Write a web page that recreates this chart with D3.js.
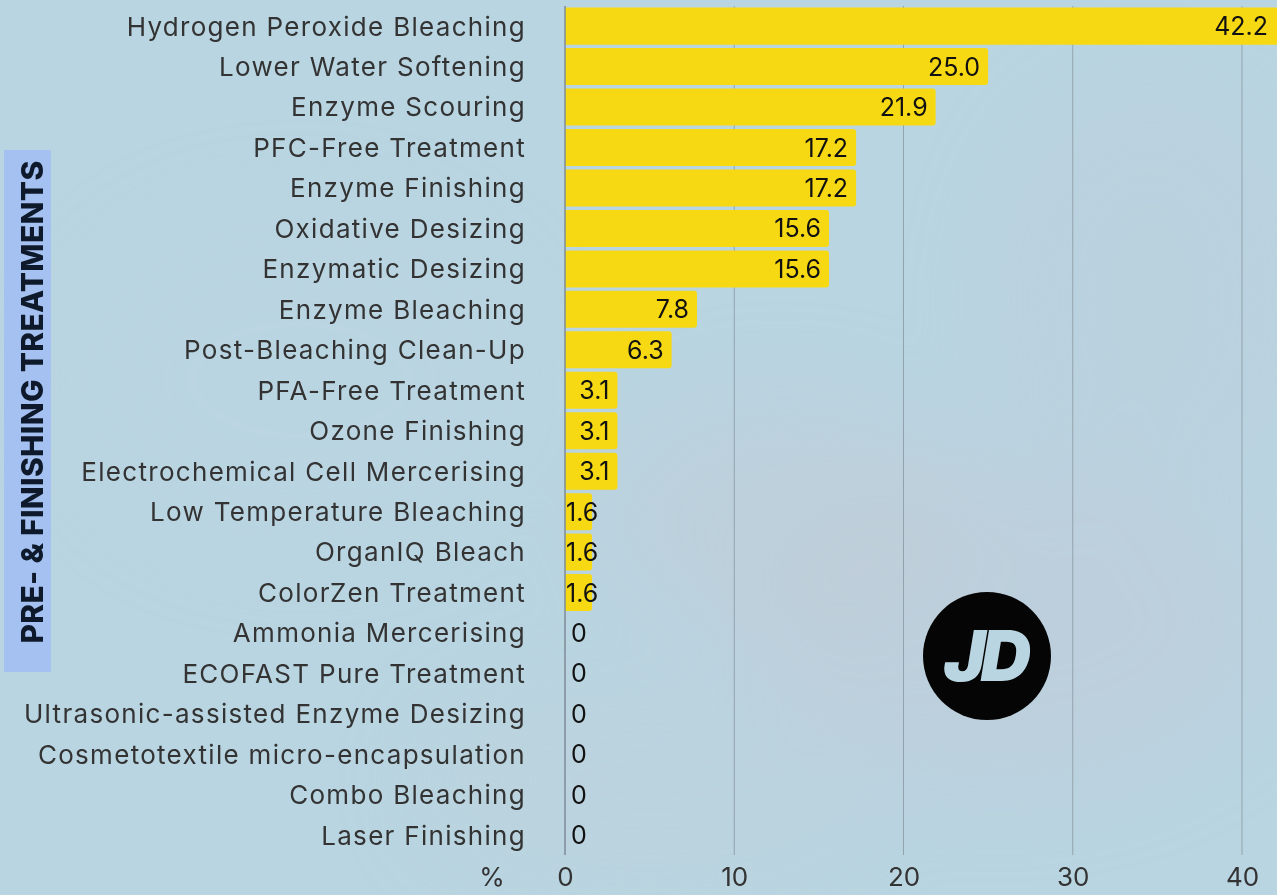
<!DOCTYPE html>
<html>
<head>
<meta charset="utf-8">
<script src="https://cdn.jsdelivr.net/npm/d3@7"></script>
<style>
  html, body { margin: 0; padding: 0; background: #b9d5e1; }
  svg { display: block; }
</style>
</head>
<body>
<svg id="chart" width="1277" height="895"></svg>
<script>
// Share of suppliers using each treatment (%)
const categories = [
  "Hydrogen Peroxide Bleaching",
  "Lower Water Softening",
  "Enzyme Scouring",
  "PFC-Free Treatment",
  "Enzyme Finishing",
  "Oxidative Desizing",
  "Enzymatic Desizing",
  "Enzyme Bleaching",
  "Post-Bleaching Clean-Up",
  "PFA-Free Treatment",
  "Ozone Finishing",
  "Electrochemical Cell Mercerising",
  "Low Temperature Bleaching",
  "OrganIQ Bleach",
  "ColorZen Treatment",
  "Ammonia Mercerising",
  "ECOFAST Pure Treatment",
  "Ultrasonic-assisted Enzyme Desizing",
  "Cosmetotextile micro-encapsulation",
  "Combo Bleaching",
  "Laser Finishing"
];
const values = [42.2, 25.0, 21.9, 17.2, 17.2, 15.6, 15.6, 7.8, 6.3, 3.1, 3.1, 3.1, 1.6, 1.6, 1.6, 0, 0, 0, 0, 0, 0];
const xTicks = [0, 10, 20, 30, 40];
const groupTitle = "PRE- & FINISHING TREATMENTS";

const W = 1277, H = 895;
const FONT = "Inter, 'Noto Sans', sans-serif";
const svg = d3.select("#chart");

// Hazy, slightly mottled backdrop
const defs = svg.append("defs");
const blur = defs.append("filter").attr("id", "haze")
  .attr("x", "-50%").attr("y", "-50%").attr("width", "200%").attr("height", "200%");
blur.append("feGaussianBlur").attr("stdDeviation", 45);
defs.append("clipPath").attr("id", "plotClip")
  .append("rect").attr("x", 0).attr("y", 0).attr("width", W).attr("height", H);

svg.append("rect").attr("width", W).attr("height", H).attr("fill", "#b9d5e1");
const haze = svg.append("g").attr("filter", "url(#haze)");
[
  [1000, 620, 260, 160, "#bfcbd8", 0.6],
  [780, 520, 180, 120, "#c0ccd8", 0.45],
  [300, 380, 220, 160, "#bcd6e3", 0.5],
  [1150, 300, 150, 200, "#bccfdc", 0.45],
  [650, 780, 220, 90, "#bfd0dc", 0.45]
].forEach(([cx, cy, rx, ry, c, o]) => {
  haze.append("ellipse").attr("cx", cx).attr("cy", cy)
    .attr("rx", rx).attr("ry", ry).attr("fill", c).attr("opacity", o);
});

// Scales
const x = d3.scaleLinear().domain([0, 40]).range([565, 1242]);
const y = d3.scaleBand().domain(categories).range([6, 6 + 21 * 40.45]).paddingInner(0.085).paddingOuter(0.04);

// Vertical gridlines
const gridTop = 6, gridBottom = 855;
svg.append("g").selectAll("line")
  .data(xTicks.filter(t => t > 0))
  .join("line")
  .attr("x1", d => x(d)).attr("x2", d => x(d))
  .attr("y1", gridTop).attr("y2", gridBottom)
  .attr("stroke", "#93a3ad").attr("stroke-width", 1);

// Bars (rounded on the right end)
const bars = svg.append("g").attr("clip-path", "url(#plotClip)");
const r = 3;
bars.selectAll("path")
  .data(categories.map((c, i) => ({ c, v: values[i] })).filter(d => d.v > 0))
  .join("path")
  .attr("fill", "#f7d913")
  .attr("d", d => {
    const x0 = x(0), x1 = x(d.v), y0 = y(d.c), h = y.bandwidth();
    const rr = Math.min(r, (x1 - x0) / 2);
    return `M${x0},${y0}H${x1 - rr}Q${x1},${y0} ${x1},${y0 + rr}V${y0 + h - rr}Q${x1},${y0 + h} ${x1 - rr},${y0 + h}H${x0}Z`;
  });

// Zero baseline
svg.append("line")
  .attr("x1", x(0)).attr("x2", x(0))
  .attr("y1", gridTop).attr("y2", gridBottom)
  .attr("stroke", "#7f8d97").attr("stroke-width", 1.5);

// Category labels
const yAxis = d3.axisLeft(y).tickSize(0).tickPadding(0);
const yG = svg.append("g").attr("transform", `translate(526,0)`).call(yAxis);
yG.select(".domain").remove();
yG.selectAll("text")
  .attr("font-family", FONT).attr("font-size", 26).attr("fill", "#333333")
  .attr("letter-spacing", 1.3)
  .attr("dy", "0.36em");

// Value labels
svg.append("g").selectAll("text")
  .data(categories.map((c, i) => ({ c, v: values[i] })))
  .join("text")
  .attr("font-family", FONT).attr("font-size", 25).attr("fill", "#111111")
  .attr("y", d => y(d.c) + y.bandwidth() / 2)
  .attr("dy", "0.36em")
  .attr("x", d => d.v === 0 ? x(0) + 6 : d.v < 2 ? x(0) + 1 : Math.min(x(d.v), 1276) - 8)
  .attr("text-anchor", d => d.v < 2 ? "start" : "end")
  .text(d => d.v === 0 ? "0" : d3.format(".1f")(d.v));

// X axis tick labels
const xAxis = d3.axisBottom(x).tickValues(xTicks).tickSize(0).tickPadding(0);
const xG = svg.append("g").attr("transform", `translate(0,877)`).call(xAxis);
xG.select(".domain").remove();
xG.selectAll("text")
  .attr("font-family", FONT).attr("font-size", 26).attr("fill", "#333333")
  .attr("dy", "0.36em").attr("y", 0);

svg.append("text")
  .attr("x", 492).attr("y", 877).attr("dy", "0.36em")
  .attr("text-anchor", "middle")
  .attr("font-family", FONT).attr("font-size", 26).attr("fill", "#333333")
  .text("%");

// Group title in a side box
svg.append("rect")
  .attr("x", 4).attr("y", 150).attr("width", 47).attr("height", 522)
  .attr("fill", "#a4c1f1");
svg.append("text")
  .attr("transform", `translate(32,402) rotate(-90)`)
  .attr("text-anchor", "middle").attr("dy", "0.36em")
  .attr("font-family", FONT).attr("font-weight", 800).attr("font-size", 30)
  .attr("letter-spacing", 0.3)
  .attr("fill", "#0e1a2b")
  .text(groupTitle);

// Brand badge
const logo = svg.append("g").attr("transform", "translate(987,656)");
logo.append("circle").attr("r", 64).attr("fill", "#050505");
logo.append("text")
  .attr("text-anchor", "middle").attr("dy", "0.35em").attr("x", -2)
  .attr("font-family", FONT).attr("font-weight", 900).attr("font-style", "italic")
  .attr("font-size", 70).attr("letter-spacing", -5)
  .attr("fill", "#b9d5e1")
  .text("JD");
</script>
</body>
</html>
